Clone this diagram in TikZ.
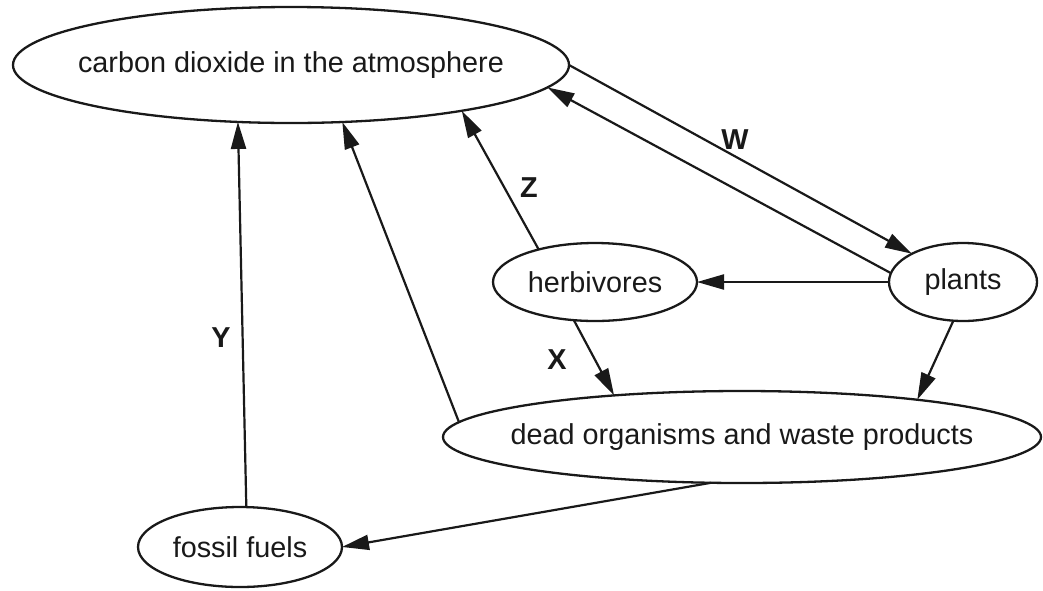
\documentclass[tikz,border=0pt]{standalone}
\usepackage{fontspec}
\setmainfont{Liberation Sans}
\usetikzlibrary{shapes.geometric,arrows.meta}
\newcommand{\zw}[1]{\makebox[0pt]{#1}}
\begin{document}
\begin{tikzpicture}[x=1pt,y=-1pt,
  blob/.style={draw=black!90, line width=2.3pt, ellipse, inner sep=0pt, outer sep=0pt,
    font=\fontsize{28.8}{34}\selectfont, text=black!90},
  flow/.style={draw=black!90, line width=2.2pt, -{Triangle[length=27pt,width=15pt]}},
  lbl/.style={font=\fontsize{28.8}{34}\selectfont\bfseries, text=black!90, inner sep=0pt}]
\useasboundingbox (0,0) rectangle (1043,590);
\node[blob, minimum width=556pt, minimum height=116pt] (co2) at (291,65) {\zw{carbon dioxide in the atmosphere}};
\node[blob, minimum width=204pt, minimum height=78pt] (herb) at (595,282) {\zw{herbivores}};
\node[blob, minimum width=148pt, minimum height=78pt] (plants) at (963,282) {\zw{plants}};
\node[blob, minimum width=598pt, minimum height=92pt] (dead) at (742,437) {\zw{dead organisms and waste products}};
\node[blob, minimum width=204pt, minimum height=80pt] (fossil) at (240,547) {\zw{fossil fuels}};

\draw[flow] (co2.east) -- (plants.151);
\draw[flow] (plants.173) -- (co2.355);
\draw[flow] (herb.150.5) -- (co2.345.7);
\draw[flow] (plants.west) -- (herb.east);
\draw[flow] (herb.241.8) -- (dead.162.7);
\draw[flow] (plants.256.3) -- (dead.12.9);
\draw[flow] (dead.177) -- (co2.312.4);
\draw[flow] (dead.236.9) -- (fossil.east);
\draw[flow] (fossil.81) -- (co2.227.1);

\node[lbl] (w) at (735,140) {W};
\node[lbl] (z) at (529,188) {Z};
\node[lbl] (x) at (557,360) {X};
\node[lbl] (y) at (221,338) {Y};
\end{tikzpicture}
\end{document}
